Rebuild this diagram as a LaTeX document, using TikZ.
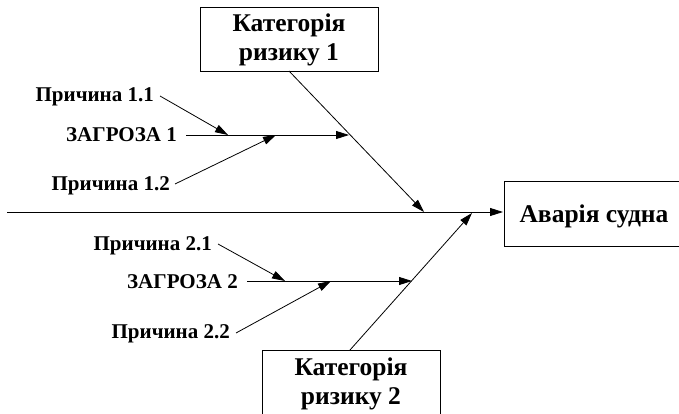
\documentclass[tikz,border=0pt]{standalone}
\usepackage{fontspec}
\setmainfont{Liberation Serif}
\usetikzlibrary{arrows.meta}
\begin{document}
\begin{tikzpicture}[x=1pt,y=-1pt,
  line/.style={line width=0.8pt},
  arr/.style={line width=0.8pt,-{Triangle[length=13pt,width=8pt]}},
  box/.style={draw,line width=0.9pt},
  lbl/.style={font=\bfseries\fontsize{21}{24}\selectfont,anchor=base east,inner sep=0pt},
  big/.style={font=\bfseries\fontsize{25.5}{29}\selectfont,inner sep=0pt}]
\useasboundingbox (0,0) rectangle (679,414);
\begin{scope}
\clip (0,0) rectangle (679,414);
% boxes
\draw[box] (200,7) rectangle (378,71);
\node[big,align=center] (cat1) at (289,40) {Категорія\\ризику 1};
\draw[box] (262,350) rectangle (440,420);
\node[big,align=center] (cat2) at (351,384) {Категорія\\ризику 2};
\draw[box] (504,181) rectangle (685,246);
\node[big,anchor=base] (acc) at (594,222) {Аварія судна};
% coordinates
\coordinate (c1top) at (289,71);
\coordinate (c2top) at (350,350);
\coordinate (spine0) at (7,212);
\coordinate (spine1) at (503,212);
\coordinate (t1) at (424,212);
\coordinate (t2) at (472,213);
% spine and bones
\draw[arr] (spine0) -- (spine1);
\draw[arr] (c1top) -- (t1);
\draw[arr] (c2top) -- (t2);
% threat 1
\node[lbl] (p11) at (154,102) {Причина 1.1};
\node[lbl] (z1) at (177,142) {ЗАГРОЗА 1};
\node[lbl] (p12) at (170,190) {Причина 1.2};
\coordinate (z1s) at (186,135);
\coordinate (z1e) at (349,135);
\coordinate (p11s) at (160,96);
\coordinate (p11e) at (228,135);
\coordinate (p12s) at (175,184);
\coordinate (p12e) at (276,135);
\draw[arr] (z1s) -- (z1e);
\draw[arr] (p11s) -- (p11e);
\draw[arr] (p12s) -- (p12e);
% threat 2
\node[lbl] (p21) at (212,250) {Причина 2.1};
\node[lbl] (z2) at (238,288) {ЗАГРОЗА 2};
\node[lbl] (p22) at (230,338) {Причина 2.2};
\coordinate (z2s) at (247,281);
\coordinate (z2e) at (412,281);
\coordinate (p21s) at (218,244);
\coordinate (p21e) at (285,281);
\coordinate (p22s) at (236,333);
\coordinate (p22e) at (331,281);
\draw[arr] (z2s) -- (z2e);
\draw[arr] (p21s) -- (p21e);
\draw[arr] (p22s) -- (p22e);
\end{scope}
\end{tikzpicture}
\end{document}
